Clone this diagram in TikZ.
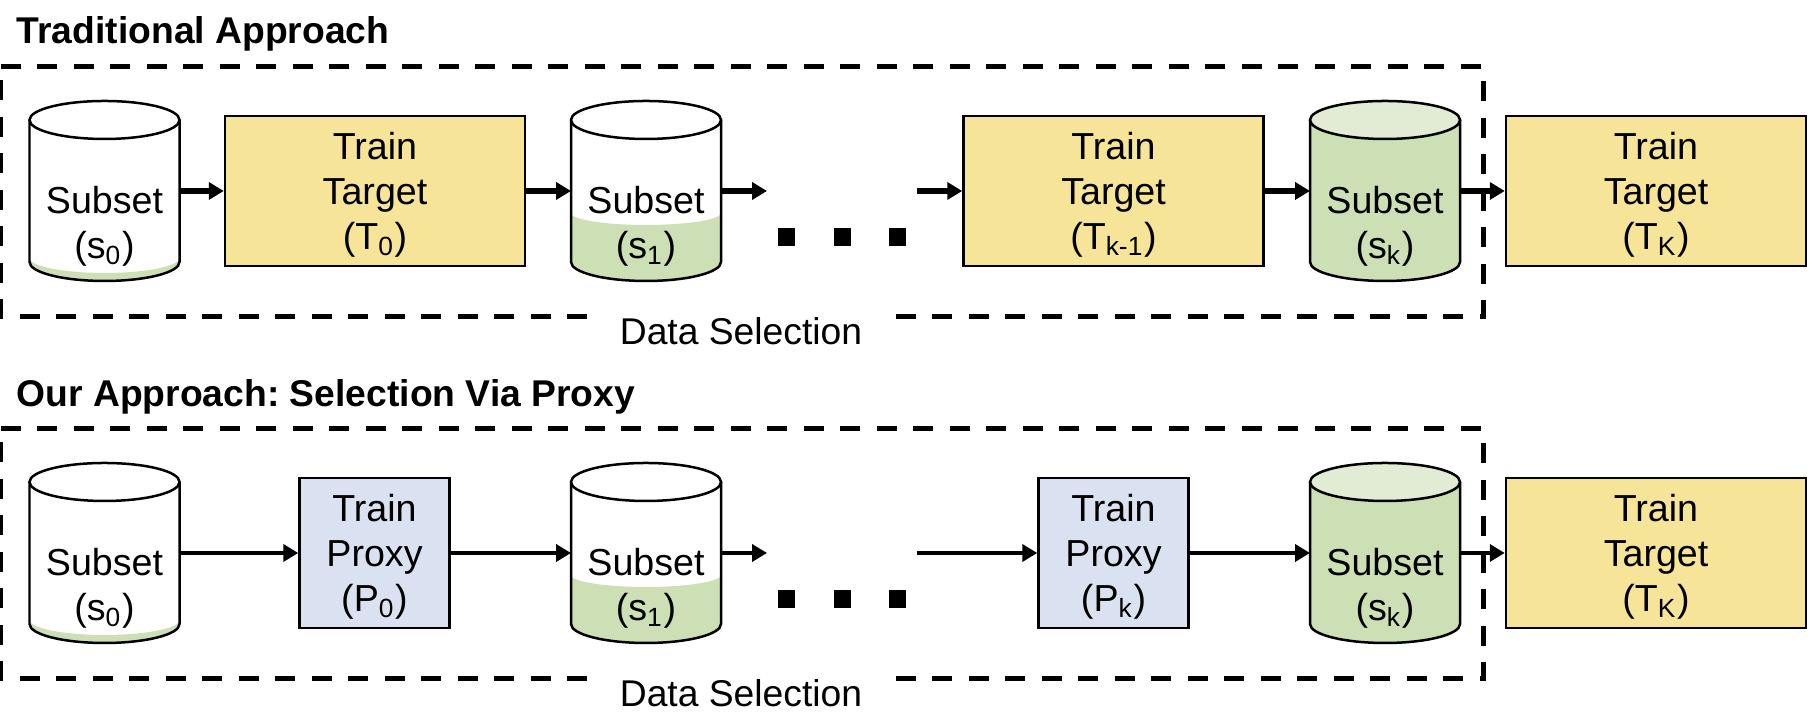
\documentclass[tikz,border=0pt]{standalone}
\usepackage{fontspec}
\setmainfont{Liberation Sans}
\usetikzlibrary{arrows.meta}
\definecolor{targetyellow}{HTML}{F6E499}
\definecolor{proxyblue}{HTML}{DAE1F0}
\definecolor{subsetgreen}{HTML}{CDDFB4}
\definecolor{subsetcap}{HTML}{E2EBD3}
\frenchspacing
\tikzset{
  boxtext/.style={align=center,font=\fontsize{10.7}{12.8}\selectfont},
  trainbox/.style={boxtext,draw,line width=0.025cm,text height=35.6pt,text depth=2.3pt,minimum height=1.5cm,inner sep=0pt},
  targetbox/.style={trainbox,fill=targetyellow,minimum width=3.0cm},
  proxybox/.style={trainbox,fill=proxyblue,minimum width=1.5cm},
  cylframe/.style={minimum width=1.5cm,minimum height=1.8cm,inner sep=0pt,outer sep=0pt},
  selectbox/.style={line width=0.05cm,dash pattern=on 0.2cm off 0.165cm},
  selectlabel/.style={font=\fontsize{10.6}{12.8}\selectfont,fill=white,inner xsep=0.23cm,inner ysep=0.1cm,anchor=base},
  headline/.style={font=\fontsize{10.6}{12}\selectfont\bfseries,anchor=base west,inner sep=0pt},
  flowA/.style={->,line width=0.052cm},
  flowB/.style={->,line width=0.047cm}
}
% name, x, y, level of the green part, sag of its edge, cap colour, subscript
\newcommand{\subsetcyl}[7]{
  \begin{scope}[shift={(#2,#3)}]
    \fill[white] (-0.75,0.71) -- (-0.75,-0.71) arc (180:360:0.75 and 0.19) -- (0.75,0.71) -- cycle;
    \fill[subsetgreen] (-0.75,#4) arc (180:360:0.75 and #5) -- (0.75,-0.71) arc (360:180:0.75 and 0.19) -- cycle;
    \draw[line width=0.025cm] (-0.75,0.71) -- (-0.75,-0.71) arc (180:360:0.75 and 0.19) -- (0.75,0.71);
    \draw[line width=0.025cm,fill=#6] (0,0.71) ellipse (0.75 and 0.19);
    \node[cylframe] (#1) at (0,0) {};
    \node[boxtext] (#1text) at (0,-0.355) {Subset\\(s\textsubscript{#7})};
  \end{scope}
}
\begin{document}
\begin{tikzpicture}[>={Triangle[length=0.15cm,width=0.17cm]}]
\useasboundingbox (0,0) rectangle (18.18,7.14);
% Ueberschriften
\node[headline] (titleA) at (0.16,6.70) {Traditional Approach};
\node[headline] (titleB) at (0.16,3.07) {Our Approach: Selection Via Proxy};
% Gestrichelte Rahmen
\draw[selectbox] (0.01,6.47) -- (14.83,6.47) -- (14.83,3.97) -- (0.01,3.97) -- cycle;
\draw[selectbox] (0.01,2.85) -- (14.83,2.85) -- (14.83,0.35) -- (0.01,0.35) -- cycle;
\node[selectlabel] (selectA) at (7.41,3.69) {Data Selection};
\node[selectlabel] (selectB) at (7.41,0.07) {Data Selection};
% Obere Reihe
\subsetcyl{sA0}{1.045}{5.23}{-0.67}{0.15}{white}{0}
\subsetcyl{sA1}{6.46}{5.23}{-0.22}{0.12}{white}{1}
\subsetcyl{sAk}{13.85}{5.23}{0.71}{0.19}{subsetcap}{k}
\node[targetbox] (tA0) at (3.75,5.23) {Train\\Target\\(T\textsubscript{0})};
\node[targetbox] (tAk) at (11.135,5.23) {Train\\Target\\(T\textsubscript{k-1})};
\node[targetbox] (tAK) at (16.56,5.23) {Train\\Target\\(T\textsubscript{K})};
\coordinate (outA) at (7.67,5.23);
\coordinate (inA) at (9.17,5.23);
% Untere Reihe
\subsetcyl{sB0}{1.045}{1.61}{-0.67}{0.15}{white}{0}
\subsetcyl{sB1}{6.46}{1.61}{-0.22}{0.12}{white}{1}
\subsetcyl{sBk}{13.85}{1.61}{0.71}{0.19}{subsetcap}{k}
\node[proxybox] (p0) at (3.745,1.61) {Train\\Proxy\\(P\textsubscript{0})};
\node[proxybox] (pk) at (11.135,1.61) {Train\\Proxy\\(P\textsubscript{k})};
\node[targetbox] (tBK) at (16.56,1.61) {Train\\Target\\(T\textsubscript{K})};
\coordinate (outB) at (7.67,1.61);
\coordinate (inB) at (9.17,1.61);
% Pfeile
\draw[flowA] (sA0) -- (tA0);
\draw[flowA] (tA0) -- (sA1);
\draw[flowA] (sA1) -- (outA);
\draw[flowA] (inA) -- (tAk);
\draw[flowA] (tAk) -- (sAk);
\draw[flowA] (sAk) -- (tAK);
\draw[flowB] (sB0) -- (p0);
\draw[flowB] (p0) -- (sB1);
\draw[flowB] (sB1) -- (outB);
\draw[flowB] (inB) -- (pk);
\draw[flowB] (pk) -- (sBk);
\draw[flowB] (sBk) -- (tBK);
% Punkte
\foreach \px in {7.78,8.34,8.89} {
  \fill (\px,4.86) rectangle ++(0.17,-0.18);
  \fill (\px,1.24) rectangle ++(0.17,-0.18);
}
\end{tikzpicture}
\end{document}
